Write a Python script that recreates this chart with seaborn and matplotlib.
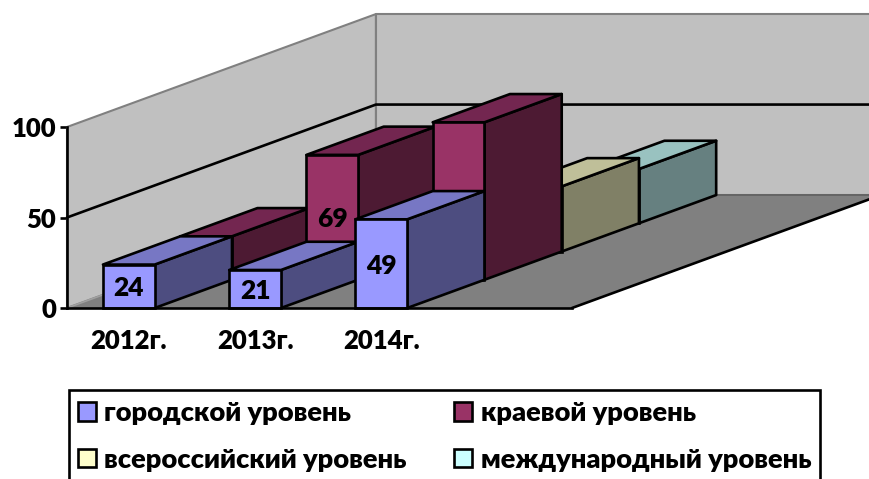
import pandas as pd
import matplotlib.pyplot as plt
from matplotlib.patches import Patch, Rectangle
from matplotlib.transforms import Affine2D
import seaborn as sns

# Data
# --------------
years = ["2012г.", "2013г.", "2014г.", ""]
city = [24, 21, 49, None]
region = [24, 69, 87, None]
russia = [None, None, 36, None]
world = [None, None, 30, None]
series_names = ["городской уровень", "краевой уровень", "всероссийский уровень", "международный уровень"]
value_ticks = [0, 50, 100]

# front, top and side colours of each series
front_colors = ["#9999FF", "#993366", "#FFFFCC", "#CCFFFF"]
top_colors = ["#7777C4", "#732650", "#BFBF99", "#99C2C0"]
side_colors = ["#4D4D80", "#4D1A33", "#808066", "#668080"]

# how far the depth axis runs, in category and value units
depth_x = 2.447
depth_y = 62.4
edge = 1.9

sns.set_theme(style="ticks")
plt.rcParams["font.family"] = ["Lato", "Open Sans", "DejaVu Sans"]
plt.rcParams["font.weight"] = "heavy"
plt.rcParams["text.color"] = "black"

figure = plt.figure(figsize=(8.7, 4.79), dpi=100)
ax = figure.add_axes([67 / 870, (479 - 308) / 479, 505 / 870, 181 / 479])


def project(x, y, depth):
    return x + depth * depth_x, y + depth * depth_y


def face(points, color, zorder, line=edge, edgecolor="black"):
    xs, ys = zip(*[project(*p) for p in points])
    ax.fill(xs, ys, facecolor=color, edgecolor=edgecolor, linewidth=line,
            joinstyle="round", zorder=zorder, clip_on=False)


# Walls and floor
# --------------
left, right = -0.49, len(years) - 0.49
top = value_ticks[-1]

face([(left, 0, 0), (left, 0, 1), (left, top, 1), (left, top, 0)], "#C0C0C0", 1, line=1.5, edgecolor="#808080")
face([(left, 0, 1), (right, 0, 1), (right, top, 1), (left, top, 1)], "#C0C0C0", 1, line=1.5, edgecolor="#808080")
face([(left, 0, 0), (right, 0, 0), (right, 0, 1), (left, 0, 1)], "#808080", 2, line=0)

xs, ys = zip(project(left, 0, 1), project(right, 0, 1))
ax.plot(xs, ys, color="#606060", lw=1.2, zorder=2.1, clip_on=False)
xs, ys = zip(project(left, 0, 0), project(left, 0, 1))
ax.plot(xs, ys, color="#A0A0A0", lw=1.2, zorder=2.1, clip_on=False)
xs, ys = zip(project(right, 0, 0), project(right, 0, 1))
ax.plot(xs, ys, color="black", lw=edge, zorder=2.2, clip_on=False)

for tick in value_ticks[1:-1]:
    xs, ys = zip(project(left, tick, 0), project(left, tick, 1), project(right, tick, 1))
    ax.plot(xs, ys, color="black", lw=edge, zorder=3, clip_on=False)

# Bars, drawn from the back row to the front one
# --------------
rows = [city, region, russia, world]

for row in reversed(range(len(rows))):
    data = pd.DataFrame({"year": years, "value": rows[row]}).dropna()
    start = len(ax.patches)
    sns.barplot(data=data, x="year", y="value", order=years, width=0.41,
                color=front_colors[row], saturation=1, edgecolor="black",
                linewidth=edge, ax=ax, zorder=10)

    depth = row / len(rows)
    shift = Affine2D().translate(depth * depth_x, depth * depth_y) + ax.transData

    for bar, value in zip(ax.patches[start:], data["value"]):
        x0, w, h = bar.get_x(), bar.get_width(), bar.get_height()
        x1 = x0 + w
        near, far = depth, depth + 1 / len(rows)
        z = 10 + 10 * (len(rows) - row) + x0

        face([(x1, 0, near), (x1, 0, far), (x1, h, far), (x1, h, near)], side_colors[row], z)
        face([(x0, h, near), (x1, h, near), (x1, h, far), (x0, h, far)], top_colors[row], z)

        bar.set_transform(shift)
        bar.set_clip_on(False)
        bar.set_zorder(z + 0.1)
        ax.text(x0 + w / 2, h / 2, f"{value:.0f}", transform=shift, ha="center", va="center_baseline",
                fontsize=19, color="black", zorder=z + 0.2)

# Axes
# --------------
ax.set_xlim(left, right)
ax.set_ylim(0, top)
ax.set_yticks(value_ticks)
ax.set(xlabel="", ylabel="")
ax.patch.set_visible(False)
ax.tick_params(axis="x", length=0, pad=15, labelsize=18.5, labelcolor="black")
ax.tick_params(axis="y", length=5, width=edge, pad=3, labelsize=18.5, color="black", labelcolor="black")
sns.despine(ax=ax)
for side in ["left", "bottom"]:
    ax.spines[side].set_linewidth(edge)
    ax.spines[side].set_color("black")
    ax.spines[side].set_zorder(5)
ax.spines["bottom"].set_zorder(100)

# Legend
# --------------
handles = [Patch(facecolor=c, edgecolor="black", linewidth=edge, label=n)
           for c, n in zip(front_colors, series_names)]
handles = [handles[0], handles[2], handles[1], handles[3]]
figure.legend(
    handles=handles, ncols=2, loc="upper left",
    bbox_to_anchor=(78 / 870, 1 - 401 / 479), bbox_transform=figure.transFigure,
    fontsize=19.6, frameon=False, labelcolor="black",
    handlelength=0.66, handleheight=0.66, handletextpad=0.3, columnspacing=1.76,
    labelspacing=0.84, borderpad=0, borderaxespad=0,
)
# the frame runs past the lower edge of the picture
figure.add_artist(Rectangle((69 / 870, -0.05), (820 - 69) / 870, 1 - 390 / 479 + 0.05,
                            transform=figure.transFigure, fill=False,
                            edgecolor="black", linewidth=edge))

figure.savefig("out.png", dpi=100)
